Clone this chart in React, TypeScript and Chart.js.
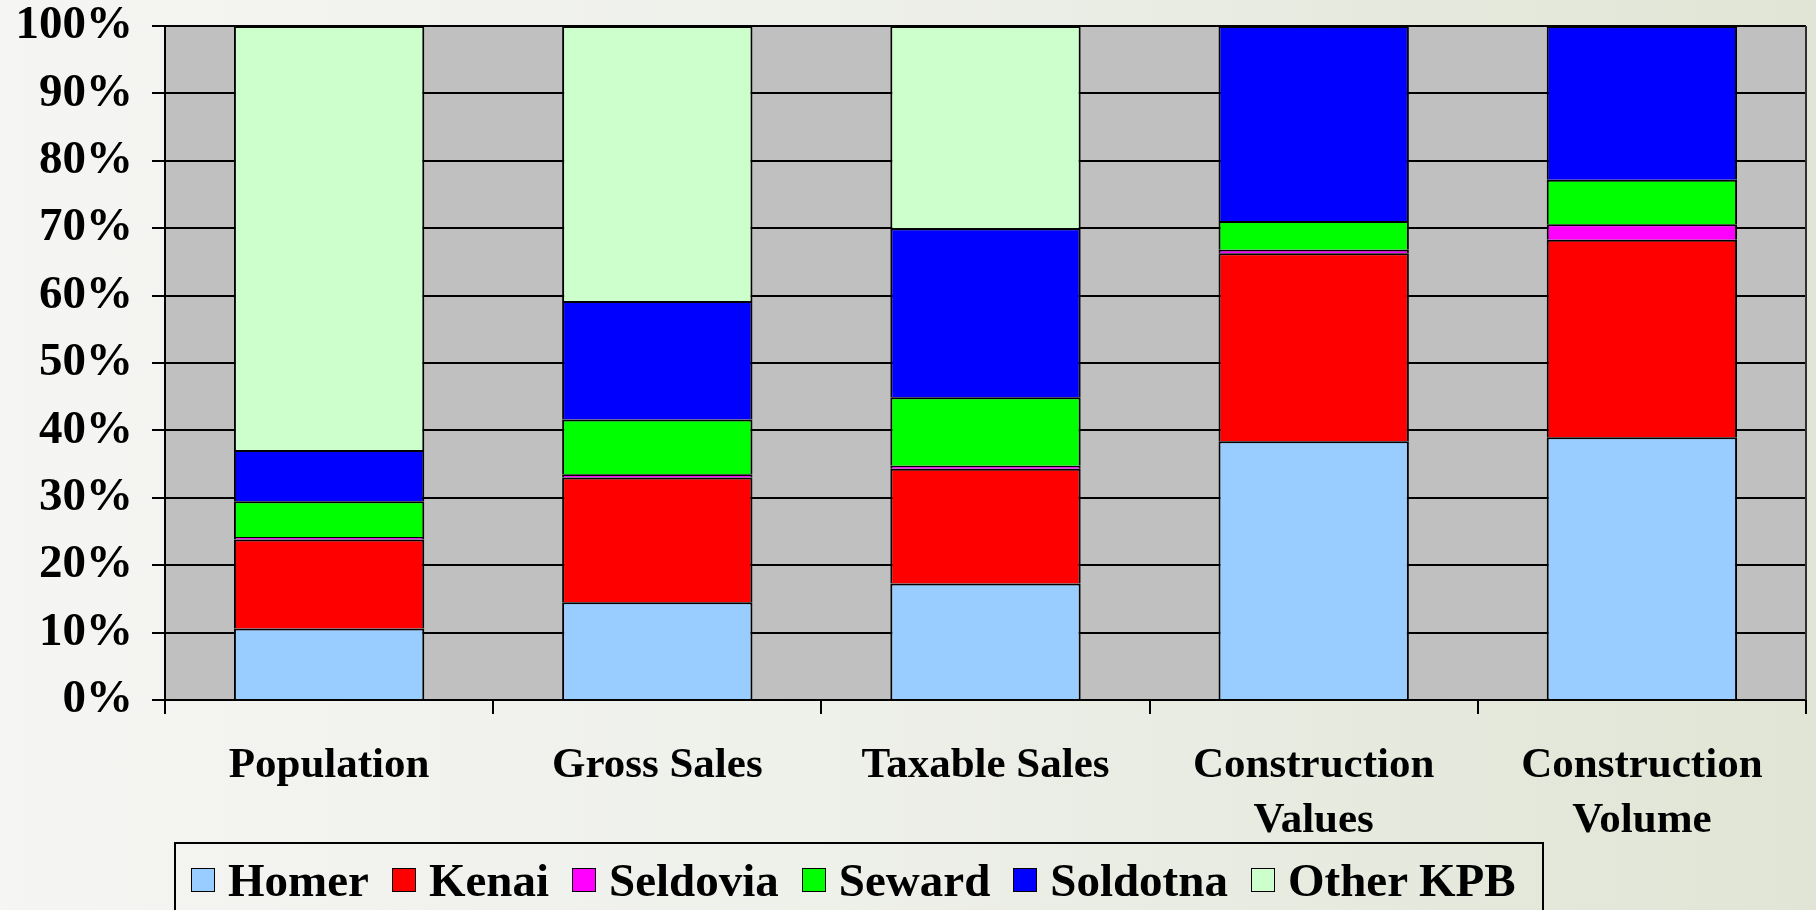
import React, { useEffect, useRef } from 'react';
import { Chart, registerables } from 'chart.js';

Chart.register(...registerables);

const categories: string[][] = [
  ['Population'],
  ['Gross Sales'],
  ['Taxable Sales'],
  ['Construction', 'Values'],
  ['Construction', 'Volume'],
];

const homer = [10.6, 14.5, 17.3, 38.4, 39.0];
const kenai = [13.2, 18.5, 17.0, 27.9, 29.3];
const seldovia = [0.4, 0.5, 0.45, 0.5, 2.3];
const seward = [5.3, 8.1, 10.15, 4.25, 6.6];
const soldotna = [7.6, 17.6, 25.1, 28.95, 22.8];
const otherKpb = [62.9, 40.8, 30.0, 0, 0];

const seriesNames = ['Homer', 'Kenai', 'Seldovia', 'Seward', 'Soldotna', 'Other KPB'];
const seriesValues = [homer, kenai, seldovia, seward, soldotna, otherKpb];
const seriesColors = ['#99ccff', '#ff0000', '#ff00ff', '#00ff00', '#0000ff', '#ccffcc'];

const yMin = 0;
const yMax = 100;
const yStep = 10;

const FONT = "'Times New Roman', 'Liberation Serif', serif";

const plotBackground = {
  id: 'plotBackground',
  beforeDraw(chart: any) {
    const { ctx, chartArea } = chart;
    ctx.save();
    ctx.fillStyle = '#c0c0c0';
    ctx.fillRect(chartArea.left, chartArea.top, chartArea.right - chartArea.left, chartArea.bottom - chartArea.top);
    ctx.restore();
  },
  afterDraw(chart: any) {
    const { ctx, chartArea } = chart;
    ctx.save();
    ctx.strokeStyle = '#303030';
    ctx.lineWidth = 2;
    ctx.beginPath();
    ctx.moveTo(chartArea.right, chartArea.top);
    ctx.lineTo(chartArea.right, chartArea.bottom);
    ctx.stroke();
    ctx.restore();
  },
};

export default function App() {
  const canvasRef = useRef<HTMLCanvasElement>(null);

  useEffect(() => {
    if (!canvasRef.current) return;
    const chart = new Chart(canvasRef.current, {
      type: 'bar',
      data: {
        labels: categories as any,
        datasets: seriesNames.map((name, i) => ({
          label: name,
          data: seriesValues[i],
          backgroundColor: seriesColors[i],
          borderColor: '#000000',
          borderWidth: 2,
          barPercentage: 0.58,
          categoryPercentage: 1,
        })),
      },
      options: {
        responsive: false,
        animation: false,
        layout: { padding: { left: 15, right: 10, top: 26, bottom: 66 } },
        plugins: {
          legend: { display: false },
          tooltip: { enabled: false },
        },
        scales: {
          x: {
            stacked: true,
            afterFit: (scale: any) => {
              scale.height = 144;
            },
            grid: {
              offset: true,
              drawOnChartArea: false,
              color: '#000000',
              lineWidth: 2,
              tickLength: 14,
            },
            border: { color: '#000000', width: 2 },
            ticks: {
              color: '#000000',
              autoSkip: false,
              maxRotation: 0,
              padding: 25,
              font: { family: FONT, size: 43, weight: 'bold', lineHeight: 1.27 },
            },
          },
          y: {
            stacked: true,
            min: yMin,
            max: yMax,
            afterFit: (scale: any) => {
              scale.width = 150;
              scale.paddingTop = 0;
              scale.paddingBottom = 0;
            },
            grid: { color: '#000000', lineWidth: 2, tickLength: 13 },
            border: { color: '#000000', width: 2 },
            ticks: {
              stepSize: yStep,
              color: '#000000',
              padding: 19,
              callback: (v: any) => `${v}%`,
              font: { family: FONT, size: 47, weight: 'bold', lineHeight: 1.1 },
            },
          },
        },
      },
      plugins: [plotBackground],
    });
    return () => chart.destroy();
  }, []);

  return (
    <div
      style={{
        position: 'fixed',
        left: 0,
        top: 0,
        width: 1816,
        height: 910,
        overflow: 'hidden',
        background:
          'linear-gradient(90deg, #f5f5f3 0%, #eef0ea 45%, #e0e5d5 100%)',
      }}
    >
      <canvas ref={canvasRef} width={1816} height={910} style={{ display: 'block', position: 'absolute', left: 0, top: 0 }} />
      <div
        style={{
          position: 'absolute',
          left: 174,
          top: 842,
          width: 1366,
          height: 120,
          borderTop: '2px solid #000',
          borderLeft: '2px solid #000',
          borderRight: '2px solid #000',
        }}
      >
        <div
          style={{
            position: 'absolute',
            left: 15,
            top: 8,
            height: 56,
            display: 'flex',
            alignItems: 'center',
            whiteSpace: 'nowrap',
          }}
        >
          {seriesNames.map((name, i) => (
            <div key={name} style={{ display: 'flex', alignItems: 'center', marginRight: i < seriesNames.length - 1 ? 23 : 0 }}>
              <span
                style={{
                  display: 'inline-block',
                  width: 22,
                  height: 22,
                  background: seriesColors[i],
                  border: '1.5px solid #000',
                  marginRight: 13,
                }}
              />
              <span style={{ fontFamily: FONT, fontWeight: 'bold', fontSize: 47, lineHeight: '56px', color: '#000' }}>{name}</span>
            </div>
          ))}
        </div>
      </div>
    </div>
  );
}
